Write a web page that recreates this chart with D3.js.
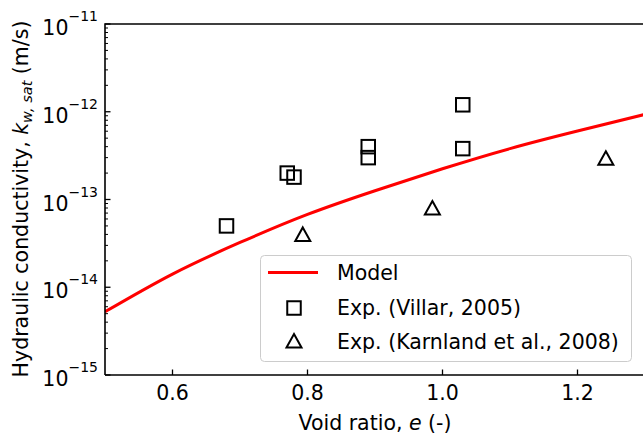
<!DOCTYPE html>
<html><head><meta charset="utf-8">
<script src="https://cdn.jsdelivr.net/npm/d3@7/dist/d3.min.js"></script>
<style>body{margin:0;background:#fff}svg{display:block}text{font-family:"DejaVu Sans",sans-serif;fill:#000}</style>
</head><body>
<svg id="c" width="643" height="439"></svg>
<script>
// Model curve (void ratio, log10 k)
const modelE = [0.5, 0.6, 0.7, 0.8, 0.9, 1.0, 1.1, 1.2, 1.3];
const modelLogK = [-14.28, -13.85, -13.49, -13.17, -12.90, -12.65, -12.42, -12.22, -12.03];
// Villar (2005)
const villarE = [0.68, 0.77, 0.78, 0.89, 0.89, 1.03, 1.03];
const villarK = [5e-14, 2e-13, 1.8e-13, 4e-13, 3e-13, 1.2e-12, 3.8e-13];
// Karnland et al. (2008)
const karnE = [0.793, 0.985, 1.242];
const karnK = [4.0e-14, 8.0e-14, 2.95e-13];
const xTicks = [0.6, 0.8, 1.0, 1.2];
const yExps = [-15, -14, -13, -12, -11];
const legendLabels = ["Model", "Exp. (Villar, 2005)", "Exp. (Karnland et al., 2008)"];

const FS = 20.5;
const svg = d3.select("#c");
const L = 105, R = 645, T = 24, B = 375;
const x = d3.scaleLinear().domain([0.5, 1.3]).range([L, R]);
const y = d3.scaleLog().domain([1e-15, 1e-11]).range([B, T]);

// minor y ticks
const minor = [];
for (let e = -15; e < -11; e++) for (let m = 2; m <= 9; m++) minor.push(m * Math.pow(10, e));
svg.append("g").selectAll("line").data(minor).join("line")
  .attr("x1", L).attr("x2", L + 3).attr("y1", d => y(d)).attr("y2", d => y(d))
  .attr("stroke", "#000").attr("stroke-width", 1);
// major y ticks
svg.append("g").selectAll("line").data(yExps).join("line")
  .attr("x1", L).attr("x2", L + 5.5).attr("y1", d => y(Math.pow(10, d))).attr("y2", d => y(Math.pow(10, d)))
  .attr("stroke", "#000").attr("stroke-width", 1.3);
// y tick labels
const yl = svg.append("g").selectAll("text").data(yExps).join("text")
  .attr("x", 98).attr("y", d => y(Math.pow(10, d)) + 11)
  .attr("text-anchor", "end").attr("font-size", FS);
yl.append("tspan").text("10");
yl.append("tspan").attr("dy", -14).attr("font-size", 14).text(d => "\u2212" + Math.abs(d));

// x ticks
svg.append("g").selectAll("line").data(xTicks).join("line")
  .attr("x1", d => x(d)).attr("x2", d => x(d)).attr("y1", B).attr("y2", B - 5.5)
  .attr("stroke", "#000").attr("stroke-width", 1.3);
svg.append("g").selectAll("text").data(xTicks).join("text")
  .attr("x", d => x(d)).attr("y", 400).attr("text-anchor", "middle").attr("font-size", FS)
  .text(d => d.toFixed(1));

// clip
svg.append("clipPath").attr("id", "clp").append("rect").attr("x", L).attr("y", T).attr("width", R - L).attr("height", B - T);

// model line
const line = d3.line().x((d, i) => x(modelE[i])).y((d, i) => y(Math.pow(10, modelLogK[i]))).curve(d3.curveNatural);
svg.append("path").datum(modelE).attr("d", line).attr("fill", "none")
  .attr("stroke", "#ff0000").attr("stroke-width", 3).attr("clip-path", "url(#clp)");

// squares
const sq = 13.5;
svg.append("g").selectAll("rect").data(villarE).join("rect")
  .attr("x", (d, i) => x(d) - sq / 2).attr("y", (d, i) => y(villarK[i]) - sq / 2)
  .attr("width", sq).attr("height", sq).attr("fill", "none").attr("stroke", "#000").attr("stroke-width", 2);
// triangles (bbox centered like matplotlib)
const triPath = "M0,-7L7.5,6.5L-7.5,6.5Z";
svg.append("g").selectAll("path").data(karnE).join("path")
  .attr("transform", (d, i) => `translate(${x(d)},${y(karnK[i])})`)
  .attr("d", triPath).attr("fill", "none").attr("stroke", "#000").attr("stroke-width", 2).attr("stroke-linejoin", "miter");

// spines
svg.append("path").attr("d", `M${L},${B}V${T}H${R}`).attr("fill", "none").attr("stroke", "#000").attr("stroke-width", 1.6);
svg.append("line").attr("x1", L).attr("x2", R).attr("y1", B).attr("y2", B).attr("stroke", "#000").attr("stroke-width", 1.6);

// legend
const lg = svg.append("g");
lg.append("rect").attr("x", 260.5).attr("y", 255.5).attr("width", 371).attr("height", 106).attr("rx", 4)
  .attr("fill", "#fff").attr("fill-opacity", 0.85).attr("stroke", "#cccccc").attr("stroke-width", 1);
lg.append("line").attr("x1", 268).attr("x2", 318).attr("y1", 272.5).attr("y2", 272.5).attr("stroke", "#ff0000").attr("stroke-width", 3);
lg.append("rect").attr("x", 294 - sq / 2).attr("y", 308 - sq / 2).attr("width", sq).attr("height", sq)
  .attr("fill", "none").attr("stroke", "#000").attr("stroke-width", 2);
lg.append("path").attr("transform", "translate(294,341)").attr("d", triPath).attr("fill", "none").attr("stroke", "#000").attr("stroke-width", 2);
lg.selectAll("text.l").data(legendLabels).join("text").attr("class", "l")
  .attr("x", 337).attr("y", (d, i) => 280 + i * 34.5).attr("font-size", FS).text(d => d);

// x label
const xlab = svg.append("text").attr("x", 375).attr("y", 430).attr("text-anchor", "middle").attr("font-size", FS);
xlab.append("tspan").text("Void ratio, ");
xlab.append("tspan").attr("font-style", "italic").text("e");
xlab.append("tspan").text(" (-)");

// y label
const ylab = svg.append("text").attr("transform", "translate(28,199) rotate(-90)").attr("text-anchor", "middle").attr("font-size", FS);
ylab.append("tspan").text("Hydraulic conductivity, ");
ylab.append("tspan").attr("font-style", "italic").text("k");
ylab.append("tspan").attr("font-style", "italic").attr("font-size", 14.5).attr("dy", 4).text("w, sat");
ylab.append("tspan").attr("dy", -4).text(" (m/s)");
</script>
</body></html>
